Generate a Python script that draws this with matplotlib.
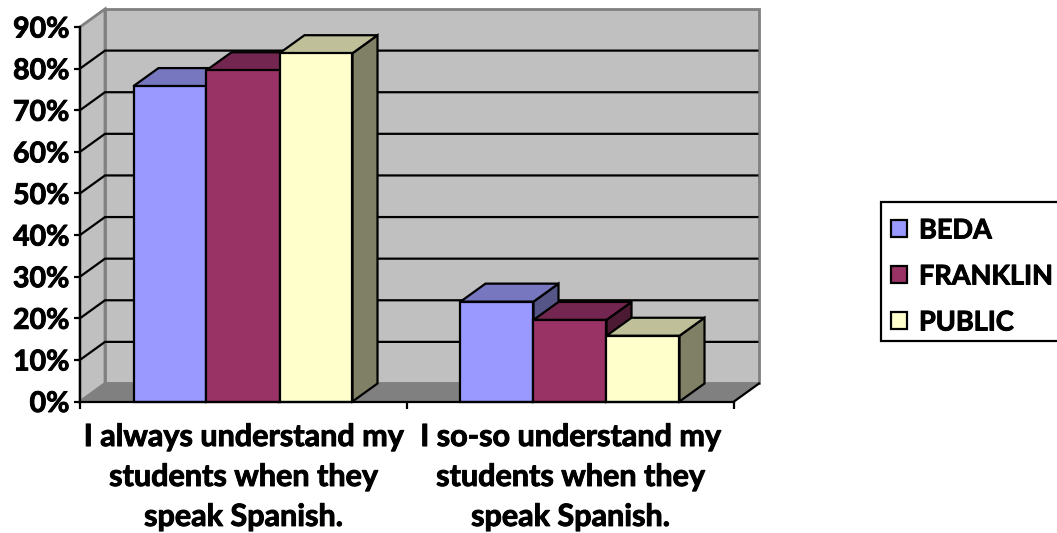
import matplotlib
matplotlib.use("Agg")
import matplotlib.pyplot as plt
import matplotlib.patheffects as pe
from matplotlib.patches import Polygon, Rectangle

categories = ["I always understand my\nstudents when they\nspeak Spanish.",
              "I so-so understand my\nstudents when they\nspeak Spanish."]
series_names = ["BEDA", "FRANKLIN", "PUBLIC"]
beda = [75.8, 24]
franklin = [79.6, 19.6]
public = [83.7, 15.8]
yticks = [0, 10, 20, 30, 40, 50, 60, 70, 80, 90]

front = ["#9999FF", "#993366", "#FFFFCC"]
top = ["#7777BF", "#732650", "#BFBF99"]
side = ["#555587", "#4D1A33", "#808066"]
WALL, FLOOR, EDGE = "#C0C0C0", "#808080", "#808080"

W, H = 1057, 533
plt.rcParams["font.family"] = ["Lato", "DejaVu Sans"]
plt.rcParams["font.weight"] = "bold"
fig = plt.figure(figsize=(W / 100, H / 100), dpi=100)
ax = fig.add_axes([80 / W, 1 - 401.5 / H, 654 / W, 374.5 / H])
ax.set_xlim(0, 2)
ax.set_ylim(0, 90)
ax.patch.set_visible(False)

# depth of the 3-D box, in data units
DX = 25 / 327
DY = 18 / 4.16
lw = 1.6
ymax = yticks[-1]
heavy = [pe.withStroke(linewidth=0.7, foreground="black")]

def poly(pts, fc, ec="black", z=2, w=lw):
    ax.add_patch(Polygon(pts, closed=True, fc=fc, ec=ec, lw=w, zorder=z,
                         clip_on=False, joinstyle="miter"))

# walls and floor
poly([(0, 0), (DX, DY), (DX, ymax + DY), (0, ymax)], WALL, EDGE, 1, 2)
poly([(DX, DY), (2 + DX, DY), (2 + DX, ymax + DY), (DX, ymax + DY)], WALL, EDGE, 1, 2)
poly([(0, 0), (DX, DY), (2 + DX, DY), (2, 0)], FLOOR, FLOOR, 1.5, 1)

# gridlines on back and side wall
for v in yticks[1:-1]:
    ax.plot([0, DX, 2 + DX - 0.005], [v, v + DY, v + DY], color="black", lw=lw,
            zorder=1.6, clip_on=False, solid_joinstyle="miter")
ax.plot([2, 2 + DX], [0, DY], color="black", lw=lw, zorder=1.7, clip_on=False)

# bars
bar_w = 73 / 327
margin = 53.5 / 327
z = 3
for c in range(2):
    for s, vals in enumerate([beda, franklin, public]):
        x0 = c + margin + s * bar_w
        x1 = x0 + bar_w
        v = vals[c]
        poly([(x1, 0), (x1 + DX, DY), (x1 + DX, v + DY), (x1, v)], side[s], z=z)
        poly([(x0, v), (x0 + DX, v + DY), (x1 + DX, v + DY), (x1, v)], top[s], z=z)
        poly([(x0, 0), (x1, 0), (x1, v), (x0, v)], front[s], z=z + 0.1)
        z += 1

# axes
for sp in ("top", "right"):
    ax.spines[sp].set_visible(False)
for sp in ("left", "bottom"):
    ax.spines[sp].set_linewidth(lw)
    ax.spines[sp].set_zorder(20)
ax.set_yticks(yticks)
ax.set_yticklabels([f"{v}%" for v in yticks], fontsize=20.5, fontweight="bold",
                   path_effects=heavy)
ax.tick_params(axis="y", length=4, width=lw, pad=3.5)
ax.set_xticks([0, 1, 2])
ax.set_xticklabels([])
ax.set_xticks([0.5, 1.5], minor=True)
ax.set_xticklabels(categories, minor=True, fontsize=22, fontweight="bold",
                   linespacing=1.52, path_effects=heavy)
ax.tick_params(axis="x", which="major", length=5, width=lw)
ax.tick_params(axis="x", which="minor", length=0, pad=15.5)

# legend box (runs off the right edge of the picture, as in the reference)
def fx(px):
    return px / W

def fy(px):
    return 1 - px / H

fig.add_artist(Rectangle((fx(881), fy(341)), fx(190), 139 / H, transform=fig.transFigure,
                         fc="white", ec="black", lw=lw, clip_on=False))
for name, color, row in zip(series_names, front, [228.5, 274.5, 320.5]):
    fig.add_artist(Rectangle((fx(890.5), fy(row + 8.5)), 16.5 / W, 17 / H,
                             transform=fig.transFigure, fc=color, ec="black", lw=lw))
    fig.text(fx(919), fy(row), name, fontsize=19.5, fontweight="bold", va="center_baseline",
             ha="left", path_effects=heavy)

fig.savefig("out.png", dpi=100)
